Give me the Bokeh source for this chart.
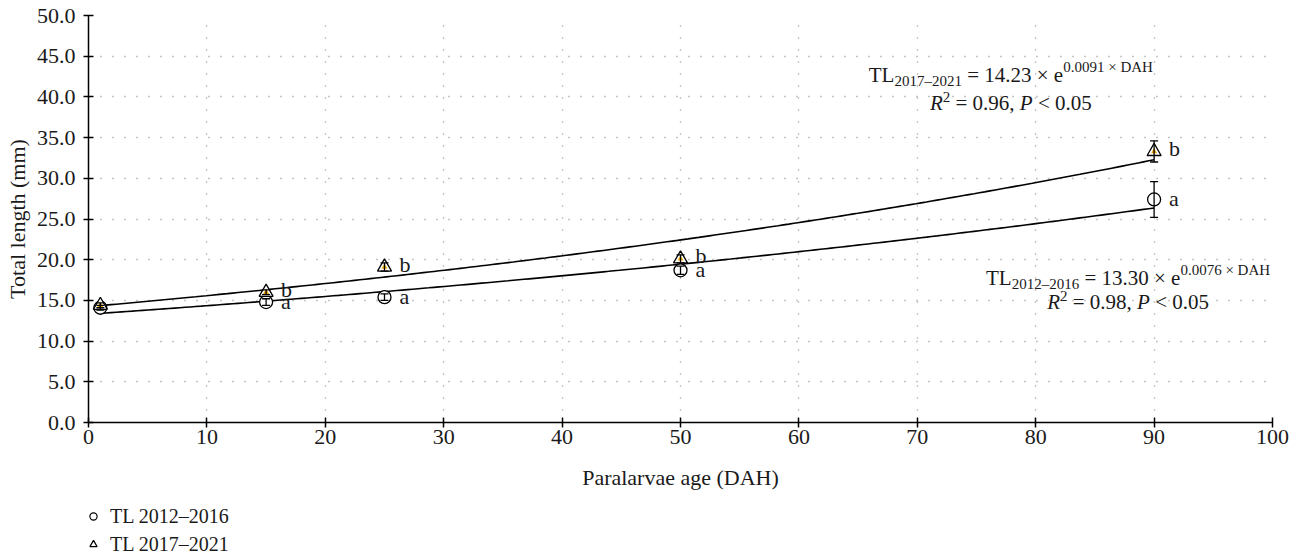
import numpy as np
from bokeh.plotting import figure
from bokeh.layouts import column
from bokeh.models import (ColumnDataSource, Range1d, FixedTicker, PrintfTickFormatter,
                          Whisker, TeeHead, Legend, LegendItem)
from bokeh.core.properties import value
from bokeh.embed import file_html
from bokeh.resources import INLINE

FONT = "Liberation Serif"
INK = "#1a1a1a"

# Mean total length (mm) by paralarvae age, with standard deviation
ages = [1, 15, 25, 50, 90]
tl_2012 = [14.1, 14.8, 15.4, 18.7, 27.4]
sd_2012 = [0.3, 0.4, 0.4, 0.5, 2.2]
tl_2017 = [14.4, 16.0, 19.1, 20.1, 33.3]
sd_2017 = [0.3, 0.3, 0.5, 0.5, 1.3]
letters_2012 = ["", "a", "a", "a", "a"]
letters_2017 = ["", "b", "b", "b", "b"]
series_names = ["TL 2012–2016", "TL 2017–2021"]

# Exponential fits TL = a * exp(b * DAH)
fit_2012_a, fit_2012_b = 13.30, 0.0076
fit_2017_a, fit_2017_b = 14.23, 0.0091

x_ticks = list(range(0, 101, 10))
y_ticks = list(range(0, 51, 5))

p = figure(width=1316, height=500, output_backend="svg", toolbar_location=None,
           x_range=Range1d(0, 100), y_range=Range1d(0, 50),
           min_border_left=88, min_border_right=44, min_border_top=15, min_border_bottom=78)
p.outline_line_color = None
p.background_fill_color = "white"

# axes
for ax in (p.xaxis[0], p.yaxis[0]):
    ax.axis_line_color = "black"
    ax.axis_line_width = 1.5
    ax.major_tick_line_color = "black"
    ax.major_tick_line_width = 1.5
    ax.major_tick_in = 5
    ax.major_tick_out = 5
    ax.minor_tick_line_color = None
    ax.major_label_text_font = FONT
    ax.major_label_text_font_size = "22px"
    ax.major_label_text_color = INK
    ax.axis_label_text_font = FONT
    ax.axis_label_text_font_size = "22px"
    ax.axis_label_text_font_style = "normal"
    ax.axis_label_text_color = INK

p.xaxis.ticker = FixedTicker(ticks=x_ticks)
p.yaxis.ticker = FixedTicker(ticks=y_ticks)
p.yaxis.formatter = PrintfTickFormatter(format="%.1f")
p.xaxis.axis_label = "Paralarvae age (DAH)"
p.yaxis.axis_label = "Total length (mm)"
p.xaxis.major_label_standoff = 2
p.yaxis.major_label_standoff = 8
p.xaxis.axis_label_standoff = 18
p.yaxis.axis_label_standoff = 4

for g in (p.xgrid[0], p.ygrid[0]):
    g.grid_line_color = "#8a8a8a"
    g.grid_line_width = 1.3
    g.grid_line_dash = "1 11"
p.xgrid.ticker = FixedTicker(ticks=x_ticks)
p.ygrid.ticker = FixedTicker(ticks=y_ticks)

# fitted curves
xs = np.linspace(ages[0], ages[-1], 200)
p.line(xs, fit_2012_a * np.exp(fit_2012_b * xs), line_color="black", line_width=1.6)
p.line(xs, fit_2017_a * np.exp(fit_2017_b * xs), line_color="black", line_width=1.6)

src = ColumnDataSource(dict(
    age=ages, tl12=tl_2012, tl17=tl_2017,
    lo12=[m - s for m, s in zip(tl_2012, sd_2012)], hi12=[m + s for m, s in zip(tl_2012, sd_2012)],
    lo17=[m - s for m, s in zip(tl_2017, sd_2017)], hi17=[m + s for m, s in zip(tl_2017, sd_2017)],
    let12=letters_2012, let17=letters_2017,
))

p.scatter("age", "tl12", source=src, marker="circle", size=13,
          fill_color="white", line_color="black", line_width=1.3)
p.scatter("age", "tl17", source=src, marker="triangle", size=14,
          fill_color="white", line_color="black", line_width=1.3)
p.scatter("age", "tl17", source=src, marker="triangle", size=6,
          fill_color="#f0a800", line_color=None)

for lo, hi in (("lo12", "hi12"), ("lo17", "hi17")):
    w = Whisker(source=src, base="age", lower=lo, upper=hi, line_color="black", line_width=1.3,
                upper_head=TeeHead(size=8, line_color="black", line_width=1.3),
                lower_head=TeeHead(size=8, line_color="black", line_width=1.3))
    w.level = "annotation"
    p.add_layout(w)

# significance letters
p.text("age", "tl12", text="let12", source=src, x_offset=15, y_offset=-1,
       text_font=value(FONT), text_font_size="22px", text_baseline="middle", text_color=INK)
p.text("age", "tl17", text="let17", source=src, x_offset=15, y_offset=-3,
       text_font=value(FONT), text_font_size="22px", text_baseline="middle", text_color=INK)

# equations built from runs of normal / sub / superscript text
ADV = {"0": .5, "1": .5, "2": .5, "3": .5, "4": .5, "5": .5, "6": .5, "7": .5, "8": .5, "9": .5,
       ".": .25, ",": .25, " ": .25, "=": .564, "×": .564, "<": .564, "e": .444, "T": .611,
       "L": .611, "–": .5, "D": .722, "A": .722, "H": .722, "R": .611, "P": .611}


def run_width(s, px):
    return sum(ADV.get(c, .5) for c in s) * px


eq = dict(x=[], y=[], text=[], xo=[], yo=[], size=[], style=[])


def equation_line(xc, yb, runs):
    total = sum(run_width(t, s) for t, s, _, _ in runs)
    off = -total / 2
    for t, s, dy, style in runs:
        lead = len(t) - len(t.lstrip(" "))
        body = t.strip(" ")
        eq["x"].append(xc)
        eq["y"].append(yb)
        eq["text"].append(body)
        eq["xo"].append(off + lead * .25 * s)
        eq["yo"].append(dy)
        eq["size"].append(f"{s}px")
        eq["style"].append(style)
        off += run_width(t, s)


BIG, SMALL = 21, 15
equation_line(77.9, 42.7, [("TL", BIG, 0, "normal"), ("2017–2021", SMALL, 6, "normal"),
                           (" = 14.23 × e", BIG, 0, "normal"), ("0.0091 × DAH", SMALL, -8, "normal")])
equation_line(77.9, 39.3, [("R", BIG, 0, "italic"), ("2", SMALL, -6, "normal"),
                           (" = 0.96, ", BIG, 0, "normal"), ("P", BIG, 0, "italic"),
                           (" < 0.05", BIG, 0, "normal")])
equation_line(87.8, 17.8, [("TL", BIG, 0, "normal"), ("2012–2016", SMALL, 6, "normal"),
                           (" = 13.30 × e", BIG, 0, "normal"), ("0.0076 × DAH", SMALL, -8, "normal")])
equation_line(87.8, 14.8, [("R", BIG, 0, "italic"), ("2", SMALL, -6, "normal"),
                           (" = 0.98, ", BIG, 0, "normal"), ("P", BIG, 0, "italic"),
                           (" < 0.05", BIG, 0, "normal")])

p.text("x", "y", text="text", source=ColumnDataSource(eq), x_offset="xo", y_offset="yo",
       text_font=value(FONT), text_font_size="size", text_font_style="style",
       text_align="left", text_baseline="alphabetic", text_color=INK)

# legend strip under the chart
leg = figure(width=1316, height=58, output_backend="svg", toolbar_location=None,
             x_range=Range1d(0, 1), y_range=Range1d(0, 1),
             x_axis_location=None, y_axis_location=None,
             min_border_left=0, min_border_right=0, min_border_top=0, min_border_bottom=0)
leg.outline_line_color = None
leg.xgrid.visible = False
leg.ygrid.visible = False
g12 = leg.scatter([-5], [-5], marker="circle", size=8,
                  fill_color="white", line_color="black", line_width=1.2)
g17 = leg.scatter([-5], [-5], marker="triangle", size=8,
                  fill_color="white", line_color="black", line_width=1.2)
legend = Legend(items=[LegendItem(label=series_names[0], renderers=[g12]),
                       LegendItem(label=series_names[1], renderers=[g17])],
                location=(-4, 0), orientation="vertical",
                label_text_font=FONT, label_text_font_size="20px", label_text_color=INK,
                glyph_width=18, glyph_height=28, label_height=28, spacing=0,
                padding=0, margin=0, label_standoff=8,
                border_line_color=None, background_fill_alpha=0)
leg.add_layout(legend, "center")

open("out.html", "w").write(file_html(column(p, leg, spacing=0), INLINE))
